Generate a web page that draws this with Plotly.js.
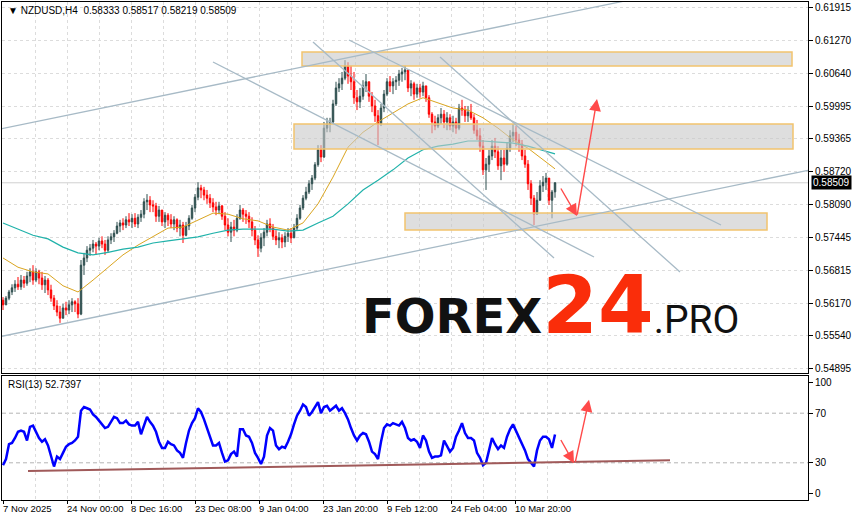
<!DOCTYPE html>
<html><head><meta charset="utf-8">
<script src="https://cdn.plot.ly/plotly-3.0.1.min.js"></script>
<style>html,body{margin:0;padding:0;background:#fff}#chart{width:854px;height:521px}</style>
</head><body><div id="chart"></div>
<script>
// ---- NZDUSD H4 price data (each candle) ----
const firstOpen = 0.5623;
const highs = [
0.5629,0.5631,0.5643,0.5654,0.5662,0.5668,0.5672,0.5670,0.5678,0.5685,
0.5691,0.5685,0.5682,0.5678,0.5670,0.5666,0.5653,0.5633,0.5623,0.5612,
0.5616,0.5620,0.5623,0.5627,0.5623,0.5627,0.5701,0.5715,0.5728,0.5732,
0.5740,0.5736,0.5744,0.5747,0.5740,0.5747,0.5753,0.5759,0.5775,0.5779,
0.5782,0.5786,0.5792,0.5790,0.5792,0.5790,0.5798,0.5821,0.5829,0.5825,
0.5817,0.5812,0.5806,0.5798,0.5794,0.5792,0.5790,0.5786,0.5782,0.5779,
0.5775,0.5775,0.5788,0.5808,0.5829,0.5852,0.5847,0.5843,0.5837,0.5829,
0.5821,0.5814,0.5814,0.5808,0.5794,0.5782,0.5775,0.5779,0.5790,0.5808,
0.5802,0.5798,0.5794,0.5784,0.5767,0.5749,0.5753,0.5763,0.5779,0.5782,
0.5771,0.5759,0.5755,0.5751,0.5755,0.5763,0.5763,0.5771,0.5790,0.5808,
0.5827,0.5843,0.5856,0.5866,0.5891,0.5924,0.5924,0.5969,0.5977,0.5977,
0.6012,0.6047,0.6054,0.6066,0.6089,0.6085,0.6078,0.6066,0.6031,0.6035,
0.6050,0.6062,0.6047,0.6027,0.6012,0.5992,0.6004,0.6031,0.6054,0.6058,
0.6054,0.6058,0.6070,0.6074,0.6078,0.6066,0.6050,0.6047,0.6043,0.6043,
0.6047,0.6039,0.6021,0.5988,0.5981,0.5984,0.5996,0.5992,0.5988,0.5984,
0.5981,0.5977,0.6004,0.6012,0.6000,0.6000,0.6004,0.5984,0.5973,0.5957,
0.5934,0.5899,0.5915,0.5934,0.5938,0.5922,0.5915,0.5915,0.5930,0.5953,
0.5965,0.5961,0.5946,0.5934,0.5915,0.5895,0.5856,0.5827,0.5833,0.5856,
0.5864,0.5870,0.5860,0.5837,0.58517];
const lows = [
0.5604,0.5614,0.5623,0.5633,0.5639,0.5643,0.5643,0.5647,0.5651,0.5658,
0.5653,0.5658,0.5654,0.5643,0.5637,0.5633,0.5620,0.5604,0.5592,0.5579,
0.5588,0.5594,0.5596,0.5600,0.5600,0.5588,0.5594,0.5672,0.5697,0.5709,
0.5716,0.5711,0.5720,0.5724,0.5711,0.5716,0.5732,0.5736,0.5751,0.5755,
0.5759,0.5763,0.5767,0.5763,0.5765,0.5763,0.5775,0.5782,0.5798,0.5794,
0.5794,0.5775,0.5775,0.5767,0.5763,0.5767,0.5763,0.5759,0.5755,0.5747,
0.5734,0.5747,0.5759,0.5779,0.5794,0.5817,0.5821,0.5817,0.5810,0.5802,
0.5794,0.5788,0.5790,0.5779,0.5759,0.5747,0.5736,0.5747,0.5755,0.5779,
0.5775,0.5771,0.5763,0.5747,0.5730,0.5707,0.5716,0.5728,0.5747,0.5755,
0.5740,0.5730,0.5724,0.5724,0.5726,0.5736,0.5734,0.5744,0.5759,0.5779,
0.5798,0.5817,0.5829,0.5837,0.5856,0.5882,0.5891,0.5899,0.5949,0.5949,
0.5965,0.6000,0.6027,0.6031,0.6050,0.6043,0.6031,0.6004,0.5992,0.5996,
0.6012,0.6027,0.6008,0.5988,0.5969,0.5924,0.5961,0.5988,0.6019,0.6027,
0.6023,0.6031,0.6039,0.6047,0.6050,0.6027,0.6019,0.6012,0.6016,0.6016,
0.6019,0.6008,0.5977,0.5947,0.5953,0.5957,0.5965,0.5957,0.5953,0.5953,
0.5949,0.5946,0.5953,0.5981,0.5969,0.5969,0.5973,0.5946,0.5934,0.5911,
0.5866,0.5837,0.5872,0.5895,0.5899,0.5876,0.5856,0.5872,0.5884,0.5911,
0.5930,0.5922,0.5911,0.5895,0.5880,0.5837,0.5808,0.5769,0.5794,0.5821,
0.5833,0.5837,0.5808,0.5782,0.58219];
const closes = [
0.5614,0.5627,0.5639,0.5647,0.5654,0.5649,0.5662,0.5656,0.5670,0.5678,
0.5662,0.5678,0.5666,0.5653,0.5662,0.5643,0.5627,0.5612,0.5600,0.5588,
0.5608,0.5604,0.5614,0.5620,0.5616,0.5596,0.5691,0.5705,0.5720,0.5724,
0.5732,0.5728,0.5738,0.5732,0.5720,0.5740,0.5746,0.5753,0.5767,0.5773,
0.5769,0.5779,0.5775,0.5782,0.5771,0.5784,0.5790,0.5814,0.5817,0.5808,
0.5806,0.5786,0.5798,0.5775,0.5788,0.5779,0.5771,0.5779,0.5763,0.5769,
0.5749,0.5767,0.5782,0.5802,0.5823,0.5841,0.5837,0.5827,0.5821,0.5812,
0.5804,0.5798,0.5806,0.5786,0.5769,0.5755,0.5765,0.5759,0.5782,0.5798,
0.5790,0.5786,0.5775,0.5759,0.5740,0.5724,0.5744,0.5755,0.5771,0.5763,
0.5747,0.5740,0.5744,0.5736,0.5747,0.5753,0.5744,0.5763,0.5782,0.5802,
0.5821,0.5833,0.5849,0.5860,0.5886,0.5915,0.5901,0.5957,0.5965,0.5969,
0.6004,0.6035,0.6043,0.6054,0.6078,0.6058,0.6047,0.6016,0.6008,0.6019,
0.6039,0.6047,0.6019,0.6000,0.5981,0.5965,0.5996,0.6023,0.6047,0.6039,
0.6047,0.6050,0.6062,0.6066,0.6070,0.6035,0.6043,0.6023,0.6035,0.6027,
0.6039,0.6016,0.5984,0.5969,0.5961,0.5977,0.5984,0.5969,0.5977,0.5961,
0.5969,0.5957,0.5996,0.5992,0.5981,0.5988,0.5977,0.5953,0.5942,0.5922,
0.5876,0.5887,0.5903,0.5922,0.5911,0.5884,0.5899,0.5887,0.5918,0.5942,
0.5949,0.5934,0.5926,0.5903,0.5887,0.5849,0.5821,0.5790,0.5817,0.5845,
0.5852,0.5860,0.5817,0.5833,0.58509];
const lastOpen = 0.58333;

// ---- moving averages, read every 5 candles ----
const maBars = [0,5,10,15,20,25,30,35,40,45,50,55,60,65,70,75,80,85,90,95,100,105,110,115,120,125,130,135,140,145,150,155,160,165,170,175,180,184];
const maFast = [0.5705,0.5687,0.5678,0.5674,0.5651,0.5639,0.5662,0.5687,0.5711,0.5730,0.5747,0.5763,0.5765,0.5779,0.5792,0.5790,0.5781,0.5777,0.5765,0.5759,
0.5773,0.5810,0.5862,0.5920,0.5949,0.5969,0.5986,0.6004,0.6016,0.6006,0.5996,0.5992,0.5977,0.5957,0.5934,0.5918,0.5895,0.5878];
const maSlow = [0.5773,0.5761,0.5749,0.5742,0.5726,0.5715,0.5711,0.5716,0.5722,0.5726,0.5734,0.5738,0.5742,0.5746,0.5753,0.5759,0.5761,0.5761,0.5761,0.5757,
0.5759,0.5773,0.5786,0.5810,0.5837,0.5856,0.5876,0.5899,0.5915,0.5922,0.5926,0.5932,0.5932,0.5930,0.5928,0.5922,0.5913,0.5907];

// ---- RSI(13) ----
const rsi = [
28,33,45,46,50,55,56,55,48,59, 60,55,50,47,49,44,35,27,35,33,
38,43,45,46,48,51,72,75,74,73, 69,67,64,61,58,59,63,67,66,62,
62,64,61,60,60,63,53,60,67,63, 60,55,47,42,42,47,45,44,40,38,
34,46,56,62,66,74,71,65,58,52, 44,44,46,38,31,32,37,39,35,57,
57,52,51,46,38,34,29,35,52,58, 56,44,41,43,42,47,53,61,68,72,
77,75,68,71,75,79,70,75,76,72, 74,76,72,74,70,65,58,52,48,52,
54,53,47,39,37,33,47,58,61,60, 62,61,60,63,58,50,48,49,47,42,
52,48,39,34,35,35,36,48,44,39, 42,51,56,62,54,50,50,48,38,34,
28,30,40,50,45,41,44,42,51,57, 61,56,51,46,40,33,30,27,40,48,
51,51,49,42,52.7397];

// ---- axis labels ----
const dateLabels = ['7 Nov 2025','24 Nov 00:00','8 Dec 16:00','23 Dec 08:00','9 Jan 04:00','23 Jan 20:00','9 Feb 12:00','24 Feb 04:00','10 Mar 20:00'];
const barsPerLabel = 64/3;   // 64 H4 bars between labels, 3 bars per candle
const priceTicks = [0.61915,0.61270,0.60640,0.59995,0.59365,0.58720,0.58090,0.57445,0.56815,0.56170,0.55540,0.54895];
const rsiLevels = [70,30];

// ---- analyst drawings (time in candle units, price) ----
const trendLines = [
  [-1,0.59553,268.33,0.62767],
  [-1,0.55522,268.33,0.58752],
  [70,0.60854,197,0.57069],
  [103.33,0.61242,183.67,0.57049],
  [115.33,0.61281,239.33,0.57690],
  [145.67,0.60951,225.67,0.56777]
];
const zones = [
  [99.67,0.61048,263,0.60776],
  [97,0.59650,263.33,0.59165],
  [134,0.57923,254.67,0.57593]
];
const priceArrows = [[185.67,0.58427,191.33,0.57864],[191.33,0.57864,198,0.60136]];
const rsiArrows = [[185.67,49.6,190.33,29.6],[190.67,29.6,195.33,80.8]];
const rsiTrend = [8.33,23.4,222.33,32];

// ---------------------------------------------------------
const bars = closes.map((_, i) => i);
const opens = [firstOpen].concat(closes.slice(0, -1));
opens[opens.length-1] = lastOpen;

const FONT = 'Liberation Sans, Arial, sans-serif';
const GRID = '#dcdcdc';

const traces = [
  {type:'candlestick', x:bars, open:opens, high:highs, low:lows, close:closes,
   xaxis:'x', yaxis:'y', whiskerwidth:0,
   increasing:{line:{color:'#2f4f4f',width:1}, fillcolor:'#2f4f4f'},
   decreasing:{line:{color:'#ff0000',width:1}, fillcolor:'#ff0000'},
   hoverinfo:'skip', showlegend:false},
  {type:'scatter', mode:'lines', x:maBars, y:maFast, xaxis:'x', yaxis:'y',
   line:{color:'#daa520', width:1}, hoverinfo:'skip', showlegend:false},
  {type:'scatter', mode:'lines', x:maBars, y:maSlow, xaxis:'x', yaxis:'y',
   line:{color:'#20b2aa', width:1.2}, hoverinfo:'skip', showlegend:false},
  {type:'scatter', mode:'lines', x:bars, y:rsi, xaxis:'x2', yaxis:'y2',
   line:{color:'#0000ff', width:2.5}, hoverinfo:'skip', showlegend:false}
];

const shapes = [];
shapes.push({type:'line', xref:'paper', x0:0, x1:1, yref:'y', y0:closes[closes.length-1], y1:closes[closes.length-1],
  line:{color:'#d0d0d0', width:1}, layer:'below'});
rsiLevels.forEach(v => shapes.push({type:'line', xref:'paper', x0:0, x1:1, yref:'y2', y0:v, y1:v,
  line:{color:'#b4b4b4', width:1, dash:'4px,3px'}, layer:'below'}));
zones.forEach(z => shapes.push({type:'rect', xref:'x', yref:'y', x0:z[0], y0:z[1], x1:z[2], y1:z[3],
  fillcolor:'rgba(200,200,200,0.6)', line:{color:'#f2c46e', width:1.5}, layer:'above'}));
trendLines.forEach(l => shapes.push({type:'line', xref:'x', yref:'y', x0:l[0], y0:l[1], x1:l[2], y1:l[3],
  line:{color:'#a7bac6', width:1.3}, layer:'above'}));
shapes.push({type:'line', xref:'x2', yref:'y2', x0:rsiTrend[0], y0:rsiTrend[1], x1:rsiTrend[2], y1:rsiTrend[3],
  line:{color:'#a05a5a', width:2}, layer:'above'});

const annotations = [];
priceArrows.forEach(a => annotations.push({xref:'x', yref:'y', axref:'x', ayref:'y',
  x:a[2], y:a[3], ax:a[0], ay:a[1], text:'', showarrow:true, arrowhead:2, arrowsize:1.7,
  arrowwidth:1.4, arrowcolor:'#ff4a4a', standoff:0}));
rsiArrows.forEach(a => annotations.push({xref:'x2', yref:'y2', axref:'x2', ayref:'y2',
  x:a[2], y:a[3], ax:a[0], ay:a[1], text:'', showarrow:true, arrowhead:2, arrowsize:1.7,
  arrowwidth:1.4, arrowcolor:'#ff4a4a', standoff:0}));
annotations.push({xref:'paper', yref:'paper', x:0.005, y:0.997, xanchor:'left', yanchor:'top', showarrow:false,
  text:'\u25BC NZDUSD,H4  ' + [lastOpen, highs[highs.length-1], lows[lows.length-1], closes[closes.length-1]].map(v=>v.toFixed(5)).join(' '),
  font:{family:FONT, size:10, color:'#000'}});
annotations.push({xref:'paper', yref:'paper', x:0.005, y:0.247, xanchor:'left', yanchor:'top', showarrow:false,
  text:'RSI(13) ' + rsi[rsi.length-1].toFixed(4), font:{family:FONT, size:10, color:'#000'}});
annotations.push({xref:'paper', yref:'y', x:1, xshift:3, y:closes[closes.length-1], xanchor:'left', yanchor:'middle',
  showarrow:false, text:closes[closes.length-1].toFixed(5), bgcolor:'#000', borderpad:1,
  font:{family:FONT, size:10, color:'#fff'}});
dateLabels.forEach((t, k) => annotations.push({xref:'x2', yref:'paper', x:k*barsPerLabel, y:-0.003,
  xanchor:'left', yanchor:'top', xshift:-2, showarrow:false, text:t, font:{family:FONT, size:9.5, color:'#000'}}));
annotations.push({xref:'paper', yref:'paper', x:0.444, y:0.294, xanchor:'left', yanchor:'bottom', showarrow:false,
  text:'<b>FOREX</b><span style="color:#fa2d0a;font-size:80px"><b>24</b></span><span style="font-size:39px;font-family:Roboto">.PRO</span>',
  font:{family:'DejaVu Sans, sans-serif', size:48, color:'#111'}});

const xCommon = {range:[-0.333, 268.33], showline:true, linecolor:'#000', linewidth:1, mirror:true,
  zeroline:false, fixedrange:true,
  tickvals:dateLabels.map((_, k) => k*barsPerLabel), ticktext:dateLabels.map(() => ''),
  showgrid:true, gridcolor:GRID, griddash:'3px,3px',
  minor:{tickvals:dateLabels.map((_, k) => (k+0.5)*barsPerLabel), showgrid:true, gridcolor:GRID, griddash:'3px,3px', ticks:''}};

const layout = {
  width:854, height:521, margin:{l:2, r:46, t:2, b:21},
  paper_bgcolor:'#fff', plot_bgcolor:'#fff', showlegend:false,
  font:{family:FONT, size:10, color:'#000'},
  xaxis:Object.assign({}, xCommon, {anchor:'y', domain:[0,1], showticklabels:false, ticks:'',
     rangeslider:{visible:false}}),
  xaxis2:Object.assign({}, xCommon, {anchor:'y2', domain:[0,1], matches:'x', ticks:'outside', ticklen:3,
     tickcolor:'#000', showticklabels:false}),
  yaxis:{domain:[0.255,1], range:[0.54817,0.62018], side:'right', anchor:'x', showline:true, linecolor:'#000',
     mirror:true, tickvals:priceTicks, ticktext:priceTicks.map(v=>v.toFixed(5)), ticks:'outside', ticklen:4,
     tickcolor:'#000', showgrid:true, gridcolor:GRID, griddash:'3px,3px', zeroline:false, fixedrange:true,
     tickfont:{family:FONT, size:10}},
  yaxis2:{domain:[0,0.249], range:[0,100], side:'right', anchor:'x2', showline:true, linecolor:'#000',
     mirror:true, tickvals:[95,70,30,5], ticktext:['100','70','30','0'], ticks:'outside', ticklen:4,
     tickcolor:'#000', showgrid:false, zeroline:false, fixedrange:true, tickfont:{family:FONT, size:10}},
  shapes:shapes, annotations:annotations
};

Plotly.newPlot('chart', traces, layout, {staticPlot:true, displayModeBar:false});
</script></body></html>
